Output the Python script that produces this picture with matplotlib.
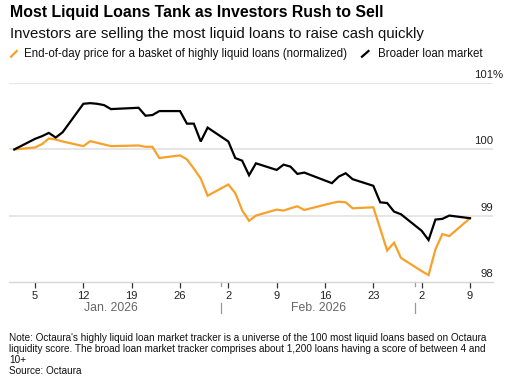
import matplotlib
matplotlib.use("Agg")
import matplotlib.pyplot as plt
import matplotlib.dates as mdates
import matplotlib.transforms as mtransforms
from matplotlib.lines import Line2D
import pandas as pd

plt.rcParams['font.family'] = ['Liberation Sans', 'DejaVu Sans']

# Data
dates = ['2026-01-02', '2026-01-05', '2026-01-06', '2026-01-07', '2026-01-08', '2026-01-09',
         '2026-01-12', '2026-01-13', '2026-01-14', '2026-01-15', '2026-01-16',
         '2026-01-20', '2026-01-21', '2026-01-22', '2026-01-23',
         '2026-01-26', '2026-01-27', '2026-01-28', '2026-01-29', '2026-01-30',
         '2026-02-02', '2026-02-03', '2026-02-04', '2026-02-05', '2026-02-06',
         '2026-02-09', '2026-02-10', '2026-02-11', '2026-02-12', '2026-02-13',
         '2026-02-17', '2026-02-18', '2026-02-19', '2026-02-20',
         '2026-02-23', '2026-02-24', '2026-02-25', '2026-02-26', '2026-02-27',
         '2026-03-02', '2026-03-03', '2026-03-04', '2026-03-05', '2026-03-06',
         '2026-03-09']
liquid = [100.0, 100.03, 100.08, 100.165, 100.15, 100.12,
          100.05, 100.125, 100.1, 100.075, 100.05,
          100.06, 100.04, 100.04, 99.87,
          99.91, 99.85, 99.71, 99.56, 99.30,
          99.47, 99.34, 99.08, 98.92, 99.0,
          99.09, 99.075, 99.11, 99.14, 99.085,
          99.19, 99.21, 99.20, 99.11,
          99.125, 98.8, 98.47, 98.59, 98.36,
          98.16, 98.10, 98.49, 98.72, 98.69,
          98.96]
broad = [100.0, 100.16, 100.2, 100.25, 100.18, 100.26,
         100.69, 100.70, 100.69, 100.67, 100.61,
         100.63, 100.51, 100.52, 100.58,
         100.58, 100.39, 100.39, 100.12, 100.33,
         100.12, 99.87, 99.83, 99.61, 99.79,
         99.69, 99.77, 99.74, 99.63, 99.65,
         99.49, 99.59, 99.64, 99.55,
         99.45, 99.2, 99.19, 99.06, 99.02,
         98.77, 98.63, 98.94, 98.95, 99.0,
         98.96]
tick_dates = ['2026-01-05', '2026-01-12', '2026-01-19', '2026-01-26', '2026-02-02',
              '2026-02-09', '2026-02-16', '2026-02-23', '2026-03-02', '2026-03-09']
tick_labels = ['5', '12', '19', '26', '2', '9', '16', '23', '2', '9']
month_starts = ['2026-02-01', '2026-03-01']
month_labels = ['Jan. 2026', 'Feb. 2026']
month_centers = ['2026-01-16', '2026-02-15']
y_ticks = [98, 99, 100, 101]

ORANGE = '#f7a12a'
x = pd.to_datetime(dates)

W, H = 505, 385
fig = plt.figure(figsize=(W / 100, H / 100), dpi=100)
ax = fig.add_axes([9 / W, 1 - 281.7 / H, 484 / W, 198.4 / H])

ax.plot(x, liquid, color=ORANGE, lw=1.6, solid_joinstyle='miter')
ax.plot(x, broad, color='black', lw=1.6, solid_joinstyle='miter')

ax.set_xlim(pd.Timestamp('2026-01-01 05:30'), pd.Timestamp('2026-03-12 08:00'))
ax.set_ylim(98, 101)

for s in ['top', 'right', 'left']:
    ax.spines[s].set_visible(False)
ax.spines['bottom'].set_color('#d6d6d6')
ax.spines['bottom'].set_linewidth(1.0)

for v in y_ticks[1:]:
    ax.axhline(v, color='#e2e2e2', lw=1.2, zorder=0)
ax.set_yticks([])

# y labels on the right, above gridlines
off = mtransforms.offset_copy(ax.transData, fig=fig, x=0, y=3, units='dots')
blend = mtransforms.blended_transform_factory(ax.transAxes, off)
for v in y_ticks:
    ax.text(1.0, v, str(v), transform=blend, ha='right', va='bottom',
            fontsize=8.2, color='#222222')
ax.text(1.0, 101, '%', transform=blend, ha='left', va='bottom',
        fontsize=8.2, color='#222222')

# x ticks
ax.set_xticks(pd.to_datetime(tick_dates))
ax.set_xticklabels(tick_labels)
ax.tick_params(axis='x', length=4, width=0.9, color='#333333', pad=3,
               labelsize=8, labelcolor='#222222')

bt = mtransforms.blended_transform_factory(ax.transData, ax.transAxes)
for d in pd.to_datetime(month_starts):
    xd = mdates.date2num(d)
    ax.add_line(Line2D([xd, xd], [0, -0.022], transform=bt, color='#999999',
                       lw=0.9, clip_on=False))
    ax.add_line(Line2D([xd, xd], [-0.108, -0.158], transform=bt, color='#999999',
                       lw=0.9, clip_on=False))
for d, lab in zip(pd.to_datetime(month_centers), month_labels):
    ax.text(d, -0.131, lab, transform=bt, ha='center', va='center',
            fontsize=8.8, color='#666666')

# Title, subtitle, legend
fig.text(10 / W, 1 - 17.3 / H, 'Most Liquid Loans Tank as Investors Rush to Sell',
         fontsize=11.45, fontweight='bold', va='baseline', ha='left')
fig.text(10 / W, 1 - 37.7 / H, 'Investors are selling the most liquid loans to raise cash quickly',
         fontsize=10.8, va='baseline', ha='left', color='#111111')
fig.add_artist(Line2D([11 / W, 16.7 / W], [1 - 56.7 / H, 1 - 51 / H], color=ORANGE, lw=1.6))
fig.text(24 / W, 1 - 57.3 / H, 'End-of-day price for a basket of highly liquid loans (normalized)',
         fontsize=8.3, va='baseline', ha='left', color='#111111')
fig.add_artist(Line2D([362 / W, 368.5 / W], [1 - 56.7 / H, 1 - 51 / H], color='black', lw=1.6))
fig.text(377.7 / W, 1 - 57.3 / H, 'Broader loan market',
         fontsize=8.3, va='baseline', ha='left', color='#111111')

# Notes
notes = ["Note: Octaura's highly liquid loan market tracker is a universe of the 100 most liquid loans based on Octaura",
         "liquidity score. The broad loan market tracker comprises about 1,200 loans having a score of between 4 and",
         "10+",
         "Source: Octaura"]
for line, base in zip(notes, [340.7, 351.7, 362.7, 374.3]):
    fig.text(9 / W, 1 - base / H, line, fontsize=7.2, va='baseline', ha='left', color='#111111')

fig.savefig('out.png', dpi=100)
